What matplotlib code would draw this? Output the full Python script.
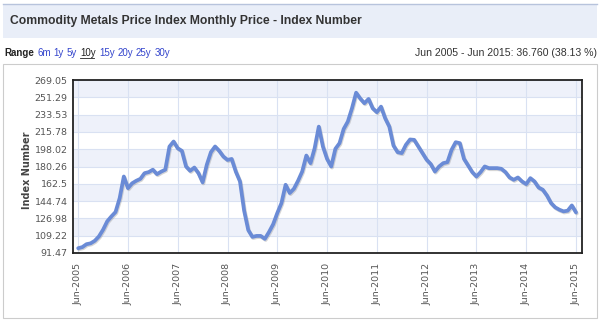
import matplotlib
matplotlib.use("Agg")
import matplotlib.pyplot as plt
import matplotlib.patheffects as pe
from matplotlib.patches import Rectangle
import numpy as np

# ---- data ----
values = [96.41, 97.5, 100.5, 101.4, 104.0, 108.5, 115.4, 124.0, 129.0, 133.5,
          147.8, 170.0, 158.0, 163.0, 165.6, 167.6, 173.4, 174.5, 177.0, 172.4,
          175.0, 177.0, 200.7, 205.9, 199.0, 196.3, 180.3, 175.8, 179.2, 173.4,
          164.0, 182.0, 195.0, 200.8, 196.3, 190.5, 187.0, 188.0, 175.0, 165.0,
          135.0, 115.0, 108.0, 109.0, 109.0, 106.0, 113.0, 121.0, 132.5, 142.7,
          161.5, 153.0, 157.4, 165.6, 175.1, 191.5, 183.7, 199.0, 221.2, 200.7,
          188.0, 180.3, 198.4, 204.2, 218.8, 226.4, 240.0, 256.0, 250.0, 245.2,
          249.6, 240.0, 236.0, 241.7, 229.8, 221.2, 201.8, 195.0, 194.0, 202.5,
          208.0, 207.6, 200.8, 194.0, 187.2, 182.7, 175.1, 180.3, 183.7, 184.7,
          197.3, 205.2, 204.2, 188.1, 181.3, 174.5, 170.0, 174.5, 180.3, 178.6,
          178.6, 178.6, 177.9, 174.5, 169.0, 166.6, 169.0, 164.9, 162.2, 168.3,
          164.9, 158.7, 156.4, 150.5, 142.7, 138.3, 135.9, 134.2, 134.9, 140.3,
          133.17]
months = list(range(len(values)))
x_tick_pos = list(range(0, 121, 12))
x_tick_labels = ["Jun-2005", "Jun-2006", "Jun-2007", "Jun-2008", "Jun-2009",
                 "Jun-2010", "Jun-2011", "Jun-2012", "Jun-2013", "Jun-2014",
                 "Jun-2015"]
y_ticks = [91.47, 109.22, 126.98, 144.74, 162.5, 180.26, 198.02, 215.78,
           233.53, 251.29, 269.05]
y_tick_labels = ["91.47", "109.22", "126.98", "144.74", "162.5", "180.26",
                 "198.02", "215.78", "233.53", "251.29", "269.05"]
range_links = ["6m", "1y", "5y", "10y", "15y", "20y", "25y", "30y"]

W, H = 600, 323
fig = plt.figure(figsize=(W / 100, H / 100), dpi=100)
fig.patch.set_facecolor("white")

def fx(px):
    return px / W

def fy(py):
    return 1 - py / H

# title bar
fig.patches.append(Rectangle((fx(3), fy(38)), fx(594), (38 - 4) / H,
                             transform=fig.transFigure, facecolor="#e9eef8",
                             edgecolor="none", zorder=0))
fig.lines.append(plt.Line2D([fx(3), fx(597)], [fy(3.5), fy(3.5)],
                            transform=fig.transFigure, color="#b7c3dc", lw=1.0))
fig.text(fx(10), fy(21), "Commodity Metals Price Index Monthly Price - Index Number",
         fontsize=8.7, fontweight="bold", color="#333333",
         family="Liberation Sans", va="center", ha="left")

# range row
fig.text(fx(4), fy(53), "Range", fontsize=7.0, fontweight="bold",
         color="#222222", family="Liberation Sans", va="center", ha="left")
link_x = [37, 53.5, 66.5, 80, 99, 117.5, 136, 154.5]
for lab, xpos in zip(range_links, link_x):
    col = "#222222" if lab == "10y" else "#3344cc"
    fig.text(fx(xpos), fy(53), lab, fontsize=7.0, color=col,
             family="Liberation Sans", va="center", ha="left")
    if lab == "10y":
        fig.lines.append(plt.Line2D([fx(xpos), fx(xpos + 14)], [fy(57.8), fy(57.8)],
                                    transform=fig.transFigure, color="#222222", lw=0.6))
fig.text(fx(597), fy(53), "Jun 2005 - Jun 2015: 36.760 (38.13 %)", fontsize=7.6,
         color="#333333", family="Liberation Sans", va="center", ha="right")

# chart box
fig.patches.append(Rectangle((fx(3), fy(318)), fx(594), (318 - 64) / H,
                             transform=fig.transFigure, facecolor="none",
                             edgecolor="#cccccc", lw=0.8, zorder=0))

# plot area
L, R, T, B = 73, 582, 80, 253
ax = fig.add_axes([fx(L), fy(B), fx(R - L), (B - T) / H])
ax.set_facecolor("white")
for i in range(len(y_ticks) - 1):
    if i % 2 == 1:
        ax.axhspan(y_ticks[i], y_ticks[i + 1], color="#eef1fa", lw=0, zorder=0)

ax.set_xlim(-1.25, 121.45)
ax.set_ylim(y_ticks[0], y_ticks[-1])
ax.set_yticks(y_ticks)
ax.set_yticklabels(y_tick_labels)
ax.set_xticks(x_tick_pos)
ax.set_xticklabels(x_tick_labels, rotation=90)
ax.grid(True, color="#d9e1f2", lw=0.8, zorder=1)
ax.set_axisbelow(True)
ax.tick_params(axis="both", length=0, labelsize=6.8, labelcolor="#555555",
               labelfontfamily="DejaVu Sans")
ax.tick_params(axis="y", pad=4)
ax.tick_params(axis="x", pad=7)
for s in ax.spines.values():
    s.set_color("#222222")
    s.set_linewidth(1.3)

ax.plot(months, values, color="#6a8bd6", lw=2.7, solid_capstyle="round",
        solid_joinstyle="round", zorder=3,
        path_effects=[pe.SimpleLineShadow(offset=(0.6, -0.8), shadow_color="#888888",
                                          alpha=0.35), pe.Normal()])

fig.text(fx(27), fy((T + B) / 2 + 4), "Index Number", rotation=90, fontsize=7,
         fontweight="bold", color="#444444", family="DejaVu Sans",
         va="center", ha="center")

fig.savefig("out.png", dpi=100, facecolor="white")
